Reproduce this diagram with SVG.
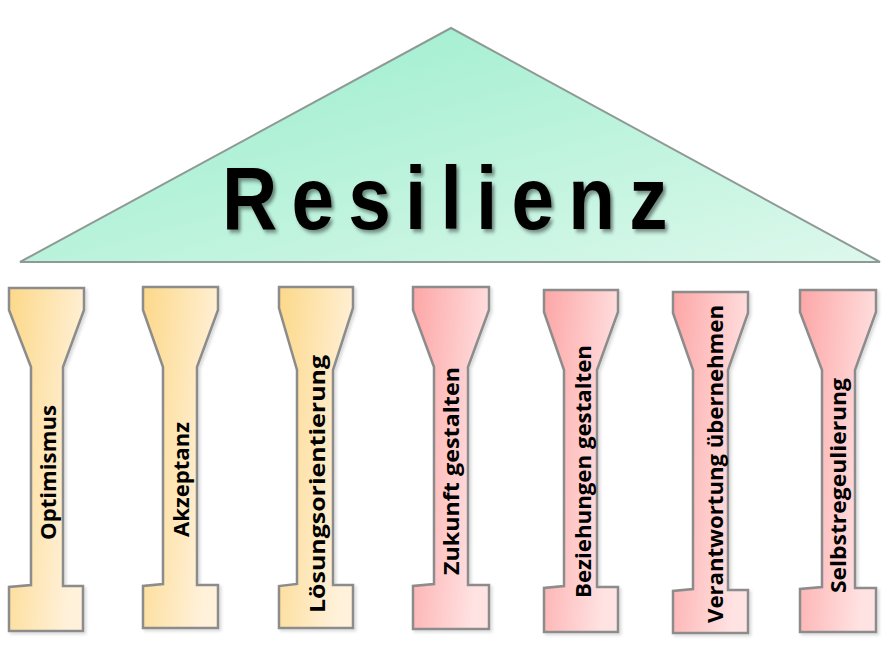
<svg xmlns="http://www.w3.org/2000/svg" width="888" height="658" viewBox="0 0 888 658">
<defs>
<linearGradient id="gGreen" x1="0" y1="0" x2="1" y2="1">
<stop offset="0" stop-color="#95EDCB"/>
<stop offset="1" stop-color="#DDF8EC"/>
</linearGradient>
<linearGradient id="gYellow" x1="0" y1="0" x2="1" y2="0.35">
<stop offset="0" stop-color="#FCD889"/>
<stop offset="1" stop-color="#FFF1DA"/>
</linearGradient>
<linearGradient id="gPink" x1="0" y1="0" x2="1" y2="0.35">
<stop offset="0" stop-color="#FDA6A6"/>
<stop offset="1" stop-color="#FFE2E2"/>
</linearGradient>
<filter id="tshadow" x="-10%" y="-20%" width="120%" height="150%">
<feDropShadow dx="3" dy="3" stdDeviation="2" flood-color="#000" flood-opacity="0.45"/>
</filter>
<filter id="pshadow" x="-20%" y="-10%" width="140%" height="120%">
<feDropShadow dx="2" dy="2" stdDeviation="1.5" flood-color="#000" flood-opacity="0.15"/>
</filter>
</defs>
<style>
.roof{fill:url(#gGreen);stroke:#8F9A96;stroke-width:2;stroke-linejoin:miter}
.py{fill:url(#gYellow);stroke:#8C8C8C;stroke-width:2.5;stroke-linejoin:miter;filter:url(#pshadow)}
.pp{fill:url(#gPink);stroke:#8C8C8C;stroke-width:2.5;stroke-linejoin:miter;filter:url(#pshadow)}
.lbl{font-family:"Open Sans","Liberation Sans",sans-serif;font-weight:700;font-size:21px;fill:#000}
.title{font-family:"Liberation Sans",Arial,sans-serif;font-weight:700;font-size:89px;fill:#000}
</style>

<g id="roof">
<polygon class="roof" points="451,28 880,262 20,262"/>
<text class="title" filter="url(#tshadow)" transform="translate(222,229) scale(0.86,1)" x="0" y="0" textLength="518" lengthAdjust="spacing">Resilienz</text>
</g>

<g id="pillar-optimismus">
<polygon class="py" points="9,288 84,288 84,310 63,367 63,586 83,586 83,631 9,631 9,587 31,585 31,367 9,310"/>
<text class="lbl" transform="translate(56,540) rotate(-90)" textLength="135" lengthAdjust="spacingAndGlyphs">Optimismus</text>
</g>

<g id="pillar-akzeptanz">
<polygon class="py" points="143,287 218,287 218,310 197,367 197,585 218,585 218,628 143,628 143,586 163,584 163,367 143,310"/>
<text class="lbl" transform="translate(189,537) rotate(-90)" textLength="115" lengthAdjust="spacingAndGlyphs">Akzeptanz</text>
</g>

<g id="pillar-loesungsorientierung">
<polygon class="py" points="279,287 353,287 353,308 333,370 333,585 353,585 353,628 279,628 279,586 297,584 297,370 279,308"/>
<text class="lbl" transform="translate(325,613) rotate(-90)" textLength="258" lengthAdjust="spacingAndGlyphs">Lösungsorientierung</text>
</g>

<g id="pillar-zukunft">
<polygon class="pp" points="413,287 489,287 489,310 468,367 468,585 489,585 489,629 413,629 413,586 434,584 434,367 413,310"/>
<text class="lbl" transform="translate(459,575) rotate(-90)" textLength="208" lengthAdjust="spacingAndGlyphs">Zukunft gestalten</text>
</g>

<g id="pillar-beziehungen">
<polygon class="pp" points="544,290 618,290 618,312 597,370 597,587 618,587 618,632 544,632 544,588 564,586 564,370 544,312"/>
<text class="lbl" transform="translate(591,598) rotate(-90)" textLength="253" lengthAdjust="spacingAndGlyphs">Beziehungen gestalten</text>
</g>

<g id="pillar-verantwortung">
<polygon class="pp" points="673,292 748,292 748,313 728,370 728,590 748,590 748,633 673,633 673,591 693,589 693,370 673,313"/>
<text class="lbl" transform="translate(723,623) rotate(-90)" textLength="318" lengthAdjust="spacingAndGlyphs">Verantwortung übernehmen</text>
</g>

<g id="pillar-selbstregulierung">
<polygon class="pp" points="800,290 876,290 876,312 855,370 855,588 876,588 876,632 800,632 800,589 822,587 822,370 800,312"/>
<text class="lbl" transform="translate(846,593) rotate(-90)" textLength="215" lengthAdjust="spacingAndGlyphs">Selbstregeulierung</text>
</g>

<g id="connectors"></g>
</svg>
